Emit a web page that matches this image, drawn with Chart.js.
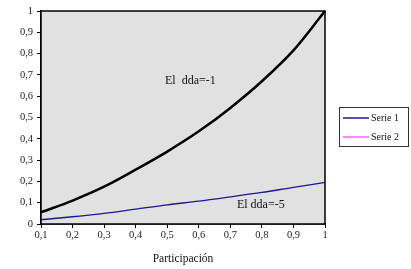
<!DOCTYPE html>
<html>
<head>
<meta charset="utf-8">
<script src="https://cdn.jsdelivr.net/npm/chart.js@4.4.0/dist/chart.umd.min.js"></script>
<style>
  body { margin: 0; background: #fff; }
  canvas { display: block; }
</style>
</head>
<body>
<canvas id="grafico" width="411" height="269"></canvas>
<script>
// datos
const xLabels = ['0,1', '0,2', '0,3', '0,4', '0,5', '0,6', '0,7', '0,8', '0,9', '1']
const yTicks = [0, 0.1, 0.2, 0.3, 0.4, 0.5, 0.6, 0.7, 0.8, 0.9, 1]
const curvaDda1 = [0.055, 0.11, 0.175, 0.255, 0.34, 0.435, 0.545, 0.67, 0.815, 1]
const serie1 = [0.02, 0.034, 0.05, 0.07, 0.09, 0.107, 0.127, 0.148, 0.172, 0.195]
const serie2 = []
const anotaciones = [
  { texto: 'El  dda=-1', x: 3.93, y: 0.672 },
  { texto: 'El dda=-5', x: 6.21, y: 0.089 }
]
const tituloX = 'Participación'

const fuente = '"Liberation Serif", "Times New Roman", serif'

function formatoComa(v) {
  return String(Math.round(v * 10) / 10).replace('.', ',')
}

// fondo gris, marco, textos y leyenda
const decorado = {
  id: 'decorado',
  beforeDatasetsDraw(chart) {
    const { ctx, chartArea: a } = chart
    ctx.save()
    ctx.fillStyle = '#e1e1e1'
    ctx.fillRect(a.left, a.top, a.right - a.left, a.bottom - a.top)
    ctx.restore()
  },
  afterDraw(chart) {
    const { ctx, chartArea: a, scales } = chart
    ctx.save()
    ctx.strokeStyle = '#000'
    ctx.lineWidth = 1.5
    ctx.strokeRect(a.left, a.top, a.right - a.left, a.bottom - a.top)

    ctx.fillStyle = '#111'
    ctx.font = '12px ' + fuente
    ctx.textAlign = 'left'
    ctx.textBaseline = 'middle'
    anotaciones.forEach(n => {
      ctx.fillText(n.texto, scales.x.getPixelForValue(n.x), scales.y.getPixelForValue(n.y))
    })

    ctx.font = '11.5px ' + fuente
    ctx.textAlign = 'center'
    ctx.fillText(tituloX, (a.left + a.right) / 2, 259)

    // leyenda
    ctx.lineWidth = 1
    ctx.strokeStyle = '#333'
    ctx.strokeRect(339.5, 107.5, 69, 39)
    ctx.font = '10px ' + fuente
    ctx.textAlign = 'left'
    const items = chart.data.datasets.filter(d => d.enLeyenda)
    items.forEach((d, i) => {
      const y = 118 + i * 19
      ctx.strokeStyle = d.borderColor
      ctx.lineWidth = 1.5
      ctx.beginPath()
      ctx.moveTo(343, y)
      ctx.lineTo(369, y)
      ctx.stroke()
      ctx.fillStyle = '#111'
      ctx.fillText(d.label, 371, y)
    })
    ctx.restore()
  }
}

new Chart(document.getElementById('grafico').getContext('2d'), {
  type: 'line',
  data: {
    labels: xLabels,
    datasets: [{
      label: 'El dda=-1',
      data: curvaDda1,
      borderColor: '#000',
      borderWidth: 2.5,
      pointRadius: 0,
      cubicInterpolationMode: 'monotone',
      enLeyenda: false
    }, {
      label: 'Serie 1',
      data: serie1,
      borderColor: '#1a1a8c',
      borderWidth: 1.3,
      pointRadius: 0,
      cubicInterpolationMode: 'monotone',
      enLeyenda: true
    }, {
      label: 'Serie 2',
      data: serie2,
      borderColor: '#ee66ee',
      borderWidth: 1.3,
      pointRadius: 0,
      enLeyenda: true
    }]
  },
  options: {
    responsive: false,
    animation: false,
    layout: { padding: { top: 11, right: 86, bottom: 0, left: 0 } },
    plugins: {
      legend: { display: false },
      tooltip: { enabled: false }
    },
    scales: {
      x: {
        type: 'category',
        offset: false,
        afterFit(s) { s.height = 45 },
        grid: { drawOnChartArea: false, color: '#000', tickLength: 4, lineWidth: 1 },
        border: { color: '#000', width: 1.5 },
        ticks: { color: '#222', font: { family: fuente, size: 10.5 }, padding: 1, maxRotation: 0, autoSkip: false }
      },
      y: {
        min: 0,
        max: 1,
        afterFit(s) { s.width = 41 },
        afterBuildTicks(s) { s.ticks = yTicks.map(v => ({ value: v })) },
        grid: { drawOnChartArea: false, color: '#000', tickLength: 4, lineWidth: 1 },
        border: { color: '#000', width: 1.5 },
        ticks: {
          color: '#222',
          font: { family: fuente, size: 10.5 },
          padding: 4,
          callback: v => formatoComa(v)
        }
      }
    }
  },
  plugins: [decorado]
})
</script>
</body>
</html>
